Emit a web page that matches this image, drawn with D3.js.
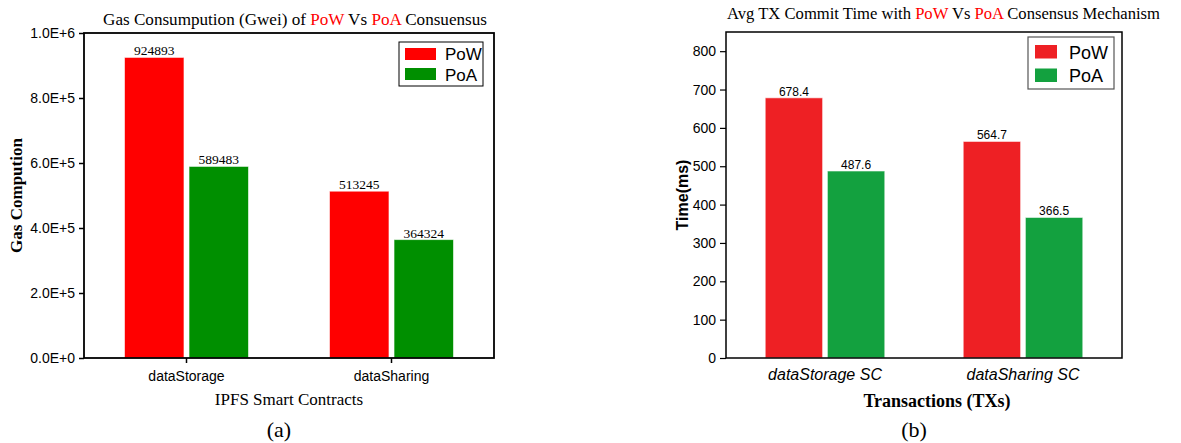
<!DOCTYPE html>
<html lang="en">

<head>
    <meta charset="UTF-8">
    <script src="https://cdnjs.cloudflare.com/ajax/libs/d3/7.8.5/d3.min.js"></script>
    <title>PoW vs PoA</title>
    <style>
        body { margin: 0; background: #fff; }
        svg { display: block; }
        .sans { font-family: "Liberation Sans", Arial, sans-serif; }
        .serif { font-family: "Liberation Serif", "Times New Roman", serif; }
    </style>
</head>

<body>
    <svg width="1181" height="443"></svg>
    <script>
        // data
        const series = ["PoW", "PoA"]

        const gasCategories = ["dataStorage", "dataSharing"]
        const gasPoW = [924893, 513245]
        const gasPoA = [589483, 364324]
        const gasTicks = [0, 200000, 400000, 600000, 800000, 1000000]

        const timeCategories = ["dataStorage SC", "dataSharing SC"]
        const timePoW = [678.4, 564.7]
        const timePoA = [487.6, 366.5]
        const timeTicks = [0, 100, 200, 300, 400, 500, 600, 700, 800]

        const svg = d3.select("svg")

        // scale a text's font so it spans the width seen in the picture
        function fitWidth(sel, w) {
            const fs = parseFloat(sel.style("font-size"))
            const len = sel.node().getComputedTextLength()
            if (len > 0) sel.style("font-size", (fs * w / len).toFixed(2) + "px")
        }

        // ---------- (a) gas consumption ----------
        const a = { left: 84, right: 494, top: 33, bottom: 358 }
        const gA = svg.append("g")

        const xA = d3.scaleBand().domain(gasCategories).range([a.left, a.right])
            .paddingInner(0.395).paddingOuter(0.1975)
        const xA1 = d3.scaleBand().domain(series).range([0, xA.bandwidth()]).paddingInner(0.078)
        const yA = d3.scaleLinear().domain([0, 1000000]).range([a.bottom, a.top])
        const colorA = d3.scaleOrdinal().domain(series).range(["#ff0000", "#008f00"])

        const gasRows = gasCategories.map((c, i) => ({ cat: c, values: [gasPoW[i], gasPoA[i]] }))

        const groupsA = gA.selectAll("g.grp")
            .data(gasRows)
            .enter()
            .append("g")
            .attr("class", "grp")
            .attr("transform", d => `translate(${xA(d.cat)},0)`)

        groupsA.selectAll("rect")
            .data(d => d.values.map((v, j) => ({ s: series[j], v })))
            .enter()
            .append("rect")
            .attr("x", d => xA1(d.s))
            .attr("y", d => yA(d.v))
            .attr("width", xA1.bandwidth())
            .attr("height", d => yA(0) - yA(d.v))
            .style("fill", d => colorA(d.s))
            .style("stroke", "rgba(255,255,255,0.6)")
            .style("stroke-width", "1px")

        groupsA.selectAll("text")
            .data(d => d.values.map((v, j) => ({ s: series[j], v })))
            .enter()
            .append("text")
            .attr("class", "serif")
            .attr("x", d => xA1(d.s) + xA1.bandwidth() / 2)
            .attr("y", d => yA(d.v) - 2)
            .style("text-anchor", "middle")
            .style("font-size", "13.5px")
            .text(d => d.v)

        gA.append("g")
            .attr("class", "sans")
            .attr("transform", `translate(${a.left},0)`)
            .call(d3.axisLeft(yA).tickValues(gasTicks).tickSize(5).tickPadding(4)
                .tickFormat(v => d3.format(".1e")(v).toUpperCase()))
            .call(g => g.select(".domain").remove())
            .call(g => g.selectAll("line").style("stroke", "#000").style("stroke-width", "1.5px"))
            .call(g => g.selectAll("text").style("font-size", "14px").style("fill", "#000"))

        gA.append("g")
            .attr("class", "sans")
            .attr("transform", `translate(0,${a.bottom})`)
            .call(d3.axisBottom(xA).tickSize(5).tickPadding(8))
            .call(g => g.select(".domain").remove())
            .call(g => g.selectAll("line").style("stroke", "#000").style("stroke-width", "1.5px"))
            .call(g => g.selectAll("text").style("font-size", "14px").style("fill", "#000"))

        gA.append("rect")
            .attr("x", a.left).attr("y", a.top)
            .attr("width", a.right - a.left).attr("height", a.bottom - a.top)
            .style("fill", "none").style("stroke", "#000").style("stroke-width", "1.8px")

        const titleA = gA.append("text")
            .attr("class", "serif")
            .attr("x", 295).attr("y", 25)
            .style("text-anchor", "middle")
            .style("font-size", "17px")
        titleA.append("tspan").text("Gas Consumpution (Gwei) of ")
        titleA.append("tspan").style("fill", "#ff0000").text("PoW")
        titleA.append("tspan").text(" Vs ")
        titleA.append("tspan").style("fill", "#ff0000").text("PoA")
        titleA.append("tspan").text(" Consuensus")
        fitWidth(titleA, 384)

        gA.append("text")
            .attr("class", "serif")
            .attr("transform", `translate(22,${(a.top + a.bottom) / 2}) rotate(-90)`)
            .style("text-anchor", "middle")
            .style("font-size", "17px")
            .style("font-weight", "bold")
            .text("Gas Compution")

        gA.append("text")
            .attr("class", "serif")
            .attr("x", (a.left + a.right) / 2).attr("y", 405)
            .style("text-anchor", "middle")
            .style("font-size", "17px")
            .text("IPFS Smart Contracts")

        gA.append("text")
            .attr("class", "serif")
            .attr("x", 279).attr("y", 437)
            .style("text-anchor", "middle")
            .style("font-size", "22px")
            .text("(a)")

        const legA = gA.append("g").attr("transform", "translate(399,42)")
        legA.append("rect")
            .attr("width", 84).attr("height", 44)
            .style("fill", "#fff").style("stroke", "#000").style("stroke-width", "1px")
        legA.selectAll("rect.sw")
            .data(series)
            .enter()
            .append("rect")
            .attr("class", "sw")
            .attr("x", 6).attr("y", (d, i) => 6 + i * 20)
            .attr("width", 31).attr("height", 12)
            .style("fill", d => colorA(d))
        legA.selectAll("text")
            .data(series)
            .enter()
            .append("text")
            .attr("class", "sans")
            .attr("x", 46).attr("y", (d, i) => 18 + i * 21)
            .style("font-size", "17px")
            .text(d => d)

        // ---------- (b) commit time ----------
        const b = { left: 726, right: 1122, top: 32, bottom: 358 }
        const gB = svg.append("g")

        const xB = d3.scaleBand().domain(timeCategories).range([b.left, b.right])
            .paddingInner(0.396).paddingOuter(0.198)
        const xB1 = d3.scaleBand().domain(series).range([0, xB.bandwidth()]).paddingInner(0.076)
        const yB = d3.scaleLinear().domain([0, 850]).range([b.bottom, b.top])
        const colorB = d3.scaleOrdinal().domain(series).range(["#ee2024", "#13a13f"])

        const timeRows = timeCategories.map((c, i) => ({ cat: c, values: [timePoW[i], timePoA[i]] }))

        const groupsB = gB.selectAll("g.grp")
            .data(timeRows)
            .enter()
            .append("g")
            .attr("class", "grp")
            .attr("transform", d => `translate(${xB(d.cat)},0)`)

        groupsB.selectAll("rect")
            .data(d => d.values.map((v, j) => ({ s: series[j], v })))
            .enter()
            .append("rect")
            .attr("x", d => xB1(d.s))
            .attr("y", d => yB(d.v))
            .attr("width", xB1.bandwidth())
            .attr("height", d => yB(0) - yB(d.v))
            .style("fill", d => colorB(d.s))
            .style("stroke", "rgba(255,255,255,0.6)")
            .style("stroke-width", "1px")

        groupsB.selectAll("text")
            .data(d => d.values.map((v, j) => ({ s: series[j], v })))
            .enter()
            .append("text")
            .attr("class", "sans")
            .attr("x", d => xB1(d.s) + xB1.bandwidth() / 2)
            .attr("y", d => yB(d.v) - 2)
            .style("text-anchor", "middle")
            .style("font-size", "12px")
            .text(d => d.v.toFixed(1))

        gB.append("g")
            .attr("class", "sans")
            .attr("transform", `translate(${b.left},0)`)
            .call(d3.axisLeft(yB).tickValues(timeTicks).tickSize(6).tickPadding(4))
            .call(g => g.select(".domain").remove())
            .call(g => g.selectAll("line").style("stroke", "#000").style("stroke-width", "1.2px"))
            .call(g => g.selectAll("text").style("font-size", "14px").style("fill", "#000"))

        gB.append("g")
            .attr("class", "sans")
            .attr("transform", `translate(0,${b.bottom})`)
            .call(d3.axisBottom(xB).tickSize(0).tickPadding(11))
            .call(g => g.select(".domain").remove())
            .call(g => g.selectAll("text").style("font-size", "16px").style("font-style", "italic").style("fill", "#000"))

        gB.append("rect")
            .attr("x", b.left).attr("y", b.top)
            .attr("width", b.right - b.left).attr("height", b.bottom - b.top)
            .style("fill", "none").style("stroke", "#000").style("stroke-width", "1.5px")

        const titleB = gB.append("text")
            .attr("class", "serif")
            .attr("x", 943.5).attr("y", 19)
            .style("text-anchor", "middle")
            .style("font-size", "17px")
        titleB.append("tspan").text("Avg TX Commit Time with ")
        titleB.append("tspan").style("fill", "#ff0000").text("PoW")
        titleB.append("tspan").text(" Vs ")
        titleB.append("tspan").style("fill", "#ff0000").text("PoA")
        titleB.append("tspan").text(" Consensus Mechanism")
        fitWidth(titleB, 433)

        gB.append("text")
            .attr("class", "sans")
            .attr("transform", `translate(688,${(b.top + b.bottom) / 2}) rotate(-90)`)
            .style("text-anchor", "middle")
            .style("font-size", "16px")
            .style("font-weight", "bold")
            .text("Time(ms)")

        gB.append("text")
            .attr("class", "serif")
            .attr("x", 937).attr("y", 407)
            .style("text-anchor", "middle")
            .style("font-size", "18px")
            .style("font-weight", "bold")
            .text("Transactions (TXs)")

        gB.append("text")
            .attr("class", "serif")
            .attr("x", 914).attr("y", 437)
            .style("text-anchor", "middle")
            .style("font-size", "22px")
            .text("(b)")

        const legB = gB.append("g").attr("transform", "translate(1028,37)")
        legB.append("rect")
            .attr("width", 86).attr("height", 52)
            .style("fill", "#fff").style("stroke", "#555").style("stroke-width", "1.2px")
        legB.selectAll("rect.sw")
            .data(series)
            .enter()
            .append("rect")
            .attr("class", "sw")
            .attr("x", 7).attr("y", (d, i) => 8 + i * 23.5)
            .attr("width", 22).attr("height", 13.5)
            .style("fill", d => colorB(d))
        legB.selectAll("text")
            .data(series)
            .enter()
            .append("text")
            .attr("class", "sans")
            .attr("x", 41).attr("y", (d, i) => 21.5 + i * 23.5)
            .style("font-size", "18px")
            .text(d => d)
    </script>
</body>

</html>
